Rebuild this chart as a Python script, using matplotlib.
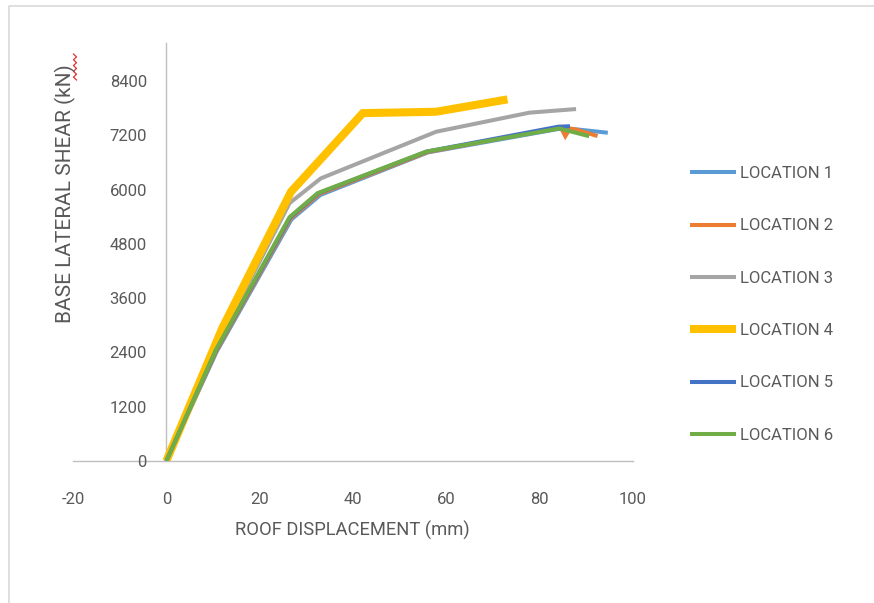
import numpy as np
import matplotlib
matplotlib.use("Agg")
import matplotlib.pyplot as plt
from matplotlib.lines import Line2D

# Pushover curves: roof displacement (mm) vs base lateral shear (kN)
loc1_disp = [0, 10.8, 26.8, 33.0, 56.0, 84.0, 88.0, 94.6]
loc1_shear = [0, 2420, 5340, 5880, 6820, 7340, 7330, 7256]

loc2_disp = [0, 10.7, 26.6, 32.7, 56.0, 84.5, 85.5, 86.5, 87.7, 92.4]
loc2_shear = [0, 2430, 5360, 5900, 6830, 7380, 7180, 7350, 7330, 7183]

loc3_disp = [0, 12.0, 26.4, 33.1, 57.8, 77.8, 87.8]
loc3_shear = [0, 2800, 5700, 6247, 7278, 7700, 7780]

loc4_disp = [0, 12.0, 26.7, 42.1, 57.8, 73.1]
loc4_shear = [0, 2940, 5950, 7690, 7720, 7994]

loc5_disp = [0, 10.6, 26.5, 32.5, 55.8, 84.0, 86.5]
loc5_shear = [0, 2440, 5380, 5915, 6840, 7390, 7400]

loc6_disp = [0, 10.6, 26.4, 32.4, 55.7, 84.2, 90.6]
loc6_shear = [0, 2450, 5390, 5920, 6840, 7350, 7180]

labels = ["LOCATION 1", "LOCATION 2", "LOCATION 3",
          "LOCATION 4", "LOCATION 5", "LOCATION 6"]
colors = ["#5B9BD5", "#ED7D31", "#A5A5A5", "#FFC000", "#4472C4", "#70AD47"]
widths = [2.9, 2.9, 2.9, 5.8, 2.9, 2.9]

x_ticks = [-20, 0, 20, 40, 60, 80, 100]
y_ticks = [0, 1200, 2400, 3600, 4800, 6000, 7200, 8400]

plt.rcParams["font.family"] = ["Roboto", "DejaVu Sans"]
text_gray = "#595959"
axis_gray = "#BFBFBF"

W, H = 874, 603
fig = plt.figure(figsize=(W / 100, H / 100), dpi=100)
ax = fig.add_axes([73 / W, 1 - 461 / H, 560 / W, 418 / H])

series = [(loc1_disp, loc1_shear), (loc2_disp, loc2_shear),
          (loc3_disp, loc3_shear), (loc4_disp, loc4_shear),
          (loc5_disp, loc5_shear), (loc6_disp, loc6_shear)]
for (xd, yd), lab, c, lw in zip(series, labels, colors, widths):
    ax.plot(xd, yd, color=c, lw=lw, label=lab,
            solid_joinstyle="miter", solid_capstyle="butt")

ax.set_xlim(-20, 100)
ax.set_ylim(0, 9240)
ax.set_xticks(x_ticks)
ax.set_yticks(y_ticks)
ax.set_xticklabels([str(v) for v in x_ticks])
ax.set_yticklabels([str(v) for v in y_ticks])

for s in ["top", "right"]:
    ax.spines[s].set_visible(False)
ax.spines["left"].set_position(("data", 0))
ax.spines["left"].set_color(axis_gray)
ax.spines["bottom"].set_color(axis_gray)
ax.spines["left"].set_linewidth(1.0)
ax.spines["bottom"].set_linewidth(1.0)
ax.spines["left"].set_zorder(0)
ax.spines["bottom"].set_zorder(0)

ax.tick_params(axis="y", length=0, pad=14, labelsize=12, labelcolor=text_gray)
ax.tick_params(axis="x", length=0, pad=22, labelsize=12, labelcolor=text_gray)

fig.text(352 / W, 1 - 530 / H, "ROOF DISPLACEMENT (mm)", ha="center", va="center",
         fontsize=13.2, color=text_gray)
fig.text(65 / W, 1 - 194 / H, "BASE LATERAL SHEAR (kN)", ha="center", va="center",
         rotation=90, fontsize=15, color=text_gray)

# spell-check squiggle beside "kN"
sq_y = np.linspace(54, 80, 10)
sq_x = 75 + np.where(np.arange(10) % 2 == 0, -1.5, 1.5)
fig.add_artist(Line2D(sq_x / W, 1 - sq_y / H, color="#E03030", lw=0.9))

leg = ax.legend(loc="upper left", bbox_to_anchor=(690 / W, 1 - 166 / H),
                bbox_transform=fig.transFigure, frameon=False, fontsize=12,
                handlelength=2.75, handletextpad=0.25, labelspacing=2.24,
                borderpad=0, borderaxespad=0)
for t in leg.get_texts():
    t.set_color(text_gray)

# outer chart border
fig.add_artist(Line2D([9 / W, 9 / W, 1.0], [0.0, 1 - 6 / H, 1 - 6 / H],
                      color="#D9D9D9", lw=1.2))

fig.savefig("out.png", dpi=100)
